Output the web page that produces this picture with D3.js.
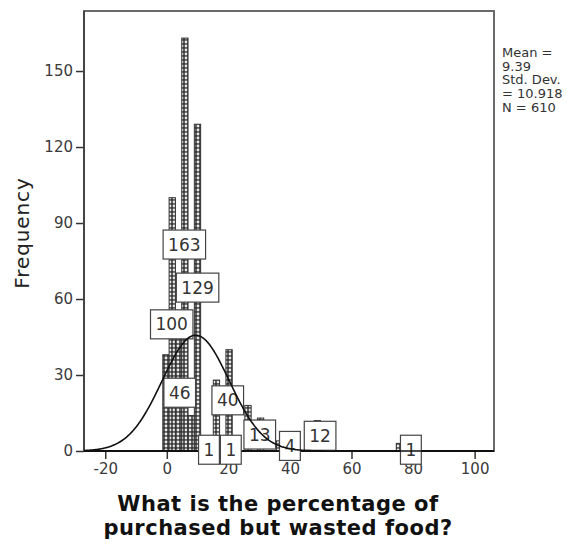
<!DOCTYPE html>
<html><head><meta charset="utf-8">
<script src="https://cdn.jsdelivr.net/npm/d3@7"></script>
<style>body{margin:0;background:#fff}svg{display:block}</style>
</head><body>
<svg id="c" width="581" height="545"></svg>
<script>
// ---- data ----
const binStart = -1.3;
const binWidth = 2.05;
const binCounts = [38,100,46,163,14,129,0,1,28,0,40,1,0,18,0,13,0,0,4,0,0,0,0,0,12,0,0,0,0,0,0,0,0,0,0,0,0,3];
const labelX = [5.7,10.0,1.6,4.2,19.8,13.7,20.8,30.2,40.0,49.8,79.3];
const labelN = [163,129,100,46,40,1,1,13,4,12,1];
const xTicks = [-20,0,20,40,60,80,100];
const yTicks = [0,30,60,90,120,150];
const statLines = ["Mean =","9.39","Std. Dev.","= 10.918","N = 610"];
const mean = 9.39, sd = 10.918, N = 610;
const xTitle = ["What is the percentage of","purchased but wasted food?"];
const yTitle = "Frequency";

// ---- layout ----
const L=84,R=494,T=11,B=451;
const svg=d3.select("#c");
const x=d3.scaleLinear().domain([-26.9,106.3]).range([L,R]);
const y=d3.scaleLinear().domain([0,173.7]).range([B,T]);

const defs=svg.append("defs");
const pat=defs.append("pattern").attr("id","dots").attr("patternUnits","userSpaceOnUse")
  .attr("width",4).attr("height",4);
pat.append("rect").attr("width",4).attr("height",4).attr("fill","#3a3a3a");
pat.append("circle").attr("cx",2).attr("cy",2).attr("r",1.4).attr("fill","#e8e8e8");

// frame
svg.append("rect").attr("x",L).attr("y",T).attr("width",R-L).attr("height",B-T)
  .attr("fill","none").attr("stroke","#6a6a6a").attr("stroke-width",2);

// bars
const bins=binCounts.map((c,i)=>({x0:binStart+i*binWidth,x1:binStart+(i+1)*binWidth,c}));
svg.append("g").selectAll("rect").data(bins.filter(d=>d.c>0)).join("rect")
  .attr("x",d=>x(d.x0)).attr("width",d=>x(d.x1)-x(d.x0))
  .attr("y",d=>y(d.c)).attr("height",d=>y(0)-y(d.c))
  .attr("fill","url(#dots)").attr("stroke","#333").attr("stroke-width",1);

// axes
const fmt=d=>String(d);
const ya=svg.append("g").attr("transform",`translate(${L},0)`)
  .call(d3.axisLeft(y).tickValues(yTicks).tickFormat(fmt).tickSize(8).tickPadding(3));
const xa=svg.append("g").attr("transform",`translate(0,${B})`)
  .call(d3.axisBottom(x).tickValues(xTicks).tickFormat(fmt).tickSize(8).tickPadding(4));
[ya,xa].forEach(g=>{
  g.select(".domain").remove();
  g.selectAll("line").attr("stroke","#333").attr("stroke-width",1.5);
  g.selectAll("text").attr("font-family","DejaVu Sans").attr("font-size",15).attr("fill","#3a3a3a");
});
svg.append("line").attr("x1",L).attr("x2",L).attr("y1",T).attr("y2",B).attr("stroke","#444").attr("stroke-width",2);
svg.append("line").attr("x1",L).attr("x2",R).attr("y1",B).attr("y2",B).attr("stroke","#111").attr("stroke-width",2);

// labels
const lg=svg.append("g");
labelX.forEach((v,i)=>{
  const g=lg.append("g");
  const t=g.append("text").attr("x",x(v)).attr("y",y(labelN[i]/2)).attr("dy","0.36em")
    .attr("text-anchor","middle").attr("font-family","DejaVu Sans").attr("font-size",17)
    .attr("fill","#333").text(labelN[i]);
  const bb=t.node().getBBox();
  const w=bb.width+10,h=29;
  g.insert("rect","text").attr("x",x(v)-w/2).attr("y",y(labelN[i]/2)-h/2)
    .attr("width",w).attr("height",h).attr("fill","#fff").attr("stroke","#444").attr("stroke-width",1.2);
});

// normal curve
const pdf=v=>N*binWidth*Math.exp(-0.5*((v-mean)/sd)**2)/(sd*Math.sqrt(2*Math.PI));
const xs=d3.range(x.domain()[0],x.domain()[1],0.25);
svg.append("path").datum(xs).attr("fill","none").attr("stroke","#111").attr("stroke-width",1.6)
  .attr("d",d3.line().x(d=>x(d)).y(d=>y(pdf(d))));

// stats
statLines.forEach((s,i)=>svg.append("text").attr("x",502).attr("y",57+13.7*i)
  .attr("font-family","DejaVu Sans").attr("font-size",13).attr("fill","#333").text(s));

// titles
svg.append("text").attr("transform",`translate(29,233) rotate(-90)`).attr("text-anchor","middle")
  .attr("font-family","DejaVu Sans").attr("font-size",20).attr("letter-spacing",0.9)
  .attr("fill","#222").text(yTitle);
xTitle.forEach((s,i)=>svg.append("text").attr("x",278).attr("y",511+24*i).attr("text-anchor","middle")
  .attr("font-family","DejaVu Sans").attr("font-weight","bold").attr("font-size",21)
  .attr("letter-spacing",0.5).attr("fill","#111").text(s));
</script>
</body></html>
